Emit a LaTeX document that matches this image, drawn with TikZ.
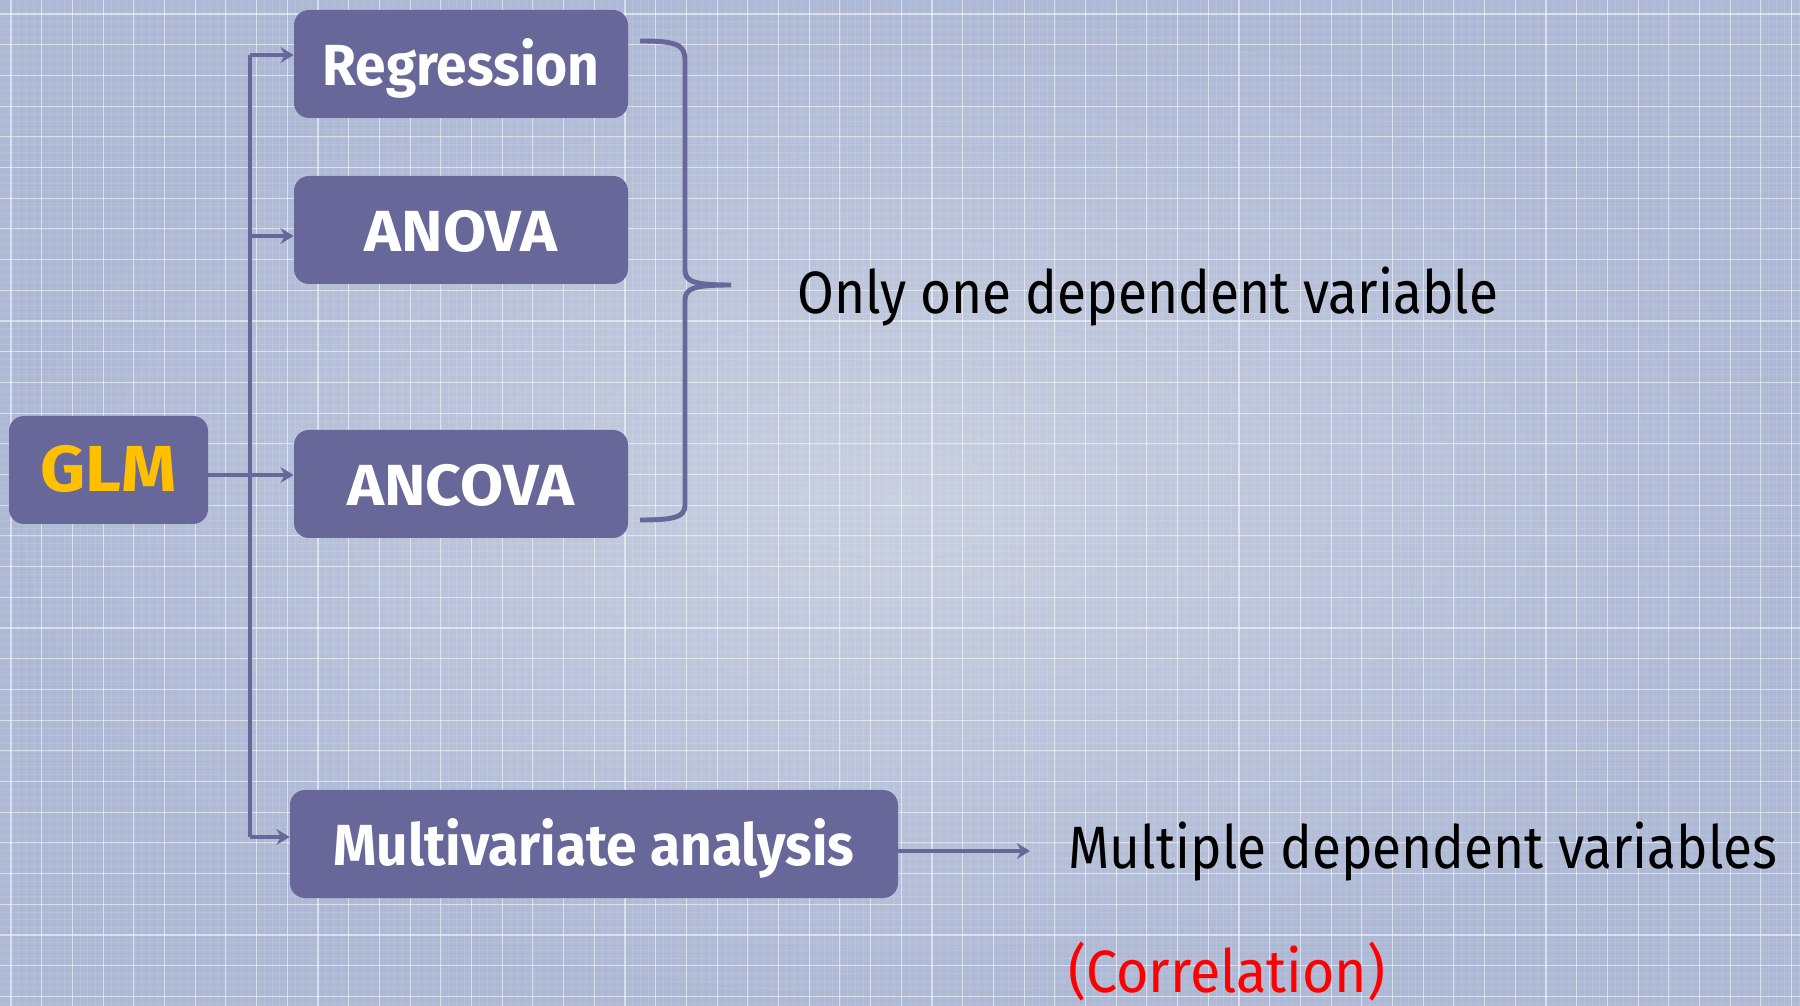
\documentclass[tikz,border=0pt]{standalone}
\usepackage{fontspec}
\setmainfont{Fira Sans}
\newfontfamily\lblfont{Fira Sans}[FakeStretch=0.89]
\newfontfamily\corrfont{Fira Sans}[FakeStretch=0.93]
\newfontfamily\boxfont{Fira Sans}[FakeStretch=0.95]
\newfontfamily\capfont{Fira Sans}[FakeStretch=1.08]
\usetikzlibrary{arrows.meta}
\definecolor{bgin}{HTML}{C8CFDF}
\definecolor{bgout}{HTML}{AEB9D5}
\definecolor{boxc}{HTML}{67679A}
\definecolor{glmc}{HTML}{FFC000}
\tikzset{
  boxnode/.style={rectangle, rounded corners=0.3cm, fill=boxc, draw=none, text=white,
    font=\boxfont\fontsize{33}{38}\selectfont\bfseries, minimum height=108*0.02cm, inner sep=0pt,
    text height=1.2cm, text depth=0.336cm},
  capbox/.style={boxnode, font=\capfont\fontsize{33}{38}\selectfont\bfseries},
  conn/.style={draw=boxc, line width=2.8pt},
  arr/.style={conn, -{Stealth[length=7.5pt,width=9pt,inset=2.5pt]}},
  lbl/.style={font=\lblfont\fontsize{34}{40}\selectfont, text=black, anchor=base west, inner sep=0pt},
  gridminor/.style={white, opacity=0.1, line width=0.3pt},
  gridmajor/.style={white, opacity=0.5, line width=0.6pt}
}
\begin{document}
\begin{tikzpicture}[x=0.02cm, y=-0.02cm]
\useasboundingbox (0,0) rectangle (1800,1006);
\shade[inner color=bgin, outer color=bgout] (0,0) rectangle (1800,1006);
\foreach \k in {0,...,131} {
  \draw[gridminor] (0, 14+\k*7.675) -- (1800, 14+\k*7.675);
}
\foreach \k in {0,...,235} {
  \draw[gridminor] (11+\k*7.675, 0) -- (11+\k*7.675, 1006);
}
\foreach \k in {0,...,32} {
  \draw[gridmajor] (0, 14+\k*30.7) -- (1800, 14+\k*30.7);
}
\foreach \k in {0,...,58} {
  \draw[gridmajor] (11+\k*30.7, 0) -- (11+\k*30.7, 1006);
}

\node[boxnode, minimum width=334*0.02cm] (reg) at (461,64) {Regression};
\node[capbox, minimum width=334*0.02cm] (anova) at (461,230) {ANOVA};
\node[capbox, minimum width=334*0.02cm] (ancova) at (461,484) {ANCOVA};
\node[capbox, minimum width=199*0.02cm, text=glmc, font=\capfont\fontsize{37}{42}\selectfont\bfseries] (glm) at (108.5,470) {GLM};
\node[boxnode, minimum width=608*0.02cm] (multi) at (594,844) {Multivariate analysis};

\node[lbl] (one) at (797,314) {Only one dependent variable};
\node[lbl] (mult) at (1068,868) {Multiple dependent variables};
\node[lbl, text=red, font=\corrfont\fontsize{34}{40}\selectfont] (corr) at (1068,992) {(Correlation)};

\coordinate (ttop) at (250,55);
\coordinate (tanova) at (250,236);
\coordinate (tglm) at (250,475);
\coordinate (tbot) at (250,837);

\draw[conn] (ttop) -- (tbot);
\draw[arr] (ttop) -- (ttop -| reg.west);
\draw[arr] (tanova) -- (tanova -| anova.west);
\draw[arr] (glm.east |- tglm) -- (tglm -| ancova.west);
\draw[arr] (tbot) -- (tbot -| multi.west);

\coordinate (mstart) at (898,851);
\coordinate (mend) at (1030,851);
\draw[arr] (mstart) -- (mend);

\coordinate (btop) at (640,41);
\coordinate (bbot) at (640,520);
\coordinate (btip) at (731,285);
\draw[conn] (btop) .. controls (675,41) and (685,44) .. (685,60)
  -- (685,270) .. controls (685,282) and (695,285) .. (btip)
  .. controls (695,285) and (685,288) .. (685,300)
  -- (685,505) .. controls (685,517) and (675,520) .. (bbot);
\end{tikzpicture}
\end{document}
